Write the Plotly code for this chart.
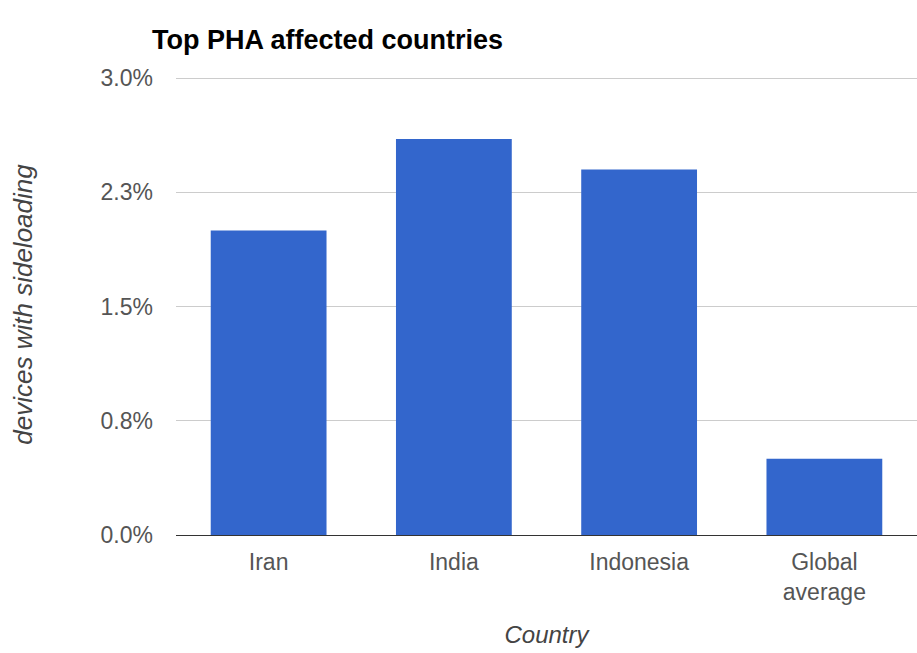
import plotly.graph_objects as go

countries = ["Iran", "India", "Indonesia", "Global<br>average"]
values = [2.0, 2.6, 2.4, 0.5]
tick_vals = [0, 0.75, 1.5, 2.25, 3.0]
tick_text = ["0.0%", "0.8%", "1.5%", "2.3%", "3.0%"]

fig = go.Figure(go.Bar(x=countries, y=values, marker_color="#3366cc", marker_line_width=0))

font = "Liberation Sans, Arial, sans-serif"
fig.update_layout(
    width=917, height=653,
    margin=dict(l=176, r=0, t=74, b=118),
    paper_bgcolor="white", plot_bgcolor="white",
    bargap=0.375,
    showlegend=False,
    title=dict(text="<b>Top PHA affected countries</b>", x=152/917, xanchor="left",
               y=1-40/653, yanchor="middle",
               font=dict(family=font, size=27, color="#000")),
    font=dict(family=font),
)
fig.update_yaxes(range=[0, 3.027], tickvals=tick_vals, ticktext=tick_text,
                 showgrid=True, gridcolor="#cccccc", gridwidth=1, zeroline=False,
                 tickfont=dict(size=23, color="#555"), ticks="", ticklabelstandoff=22,
                 title=dict(text="<i>devices with sideloading</i>", standoff=60,
                            font=dict(size=26, color="#444")))
fig.update_xaxes(showline=True, linecolor="#333", linewidth=1, ticks="",
                 tickfont=dict(size=23, color="#555"), ticklabelstandoff=6,
                 title=dict(text="<i>Country</i>", standoff=22,
                            font=dict(size=24, color="#444")))

fig.write_html("out.html")
